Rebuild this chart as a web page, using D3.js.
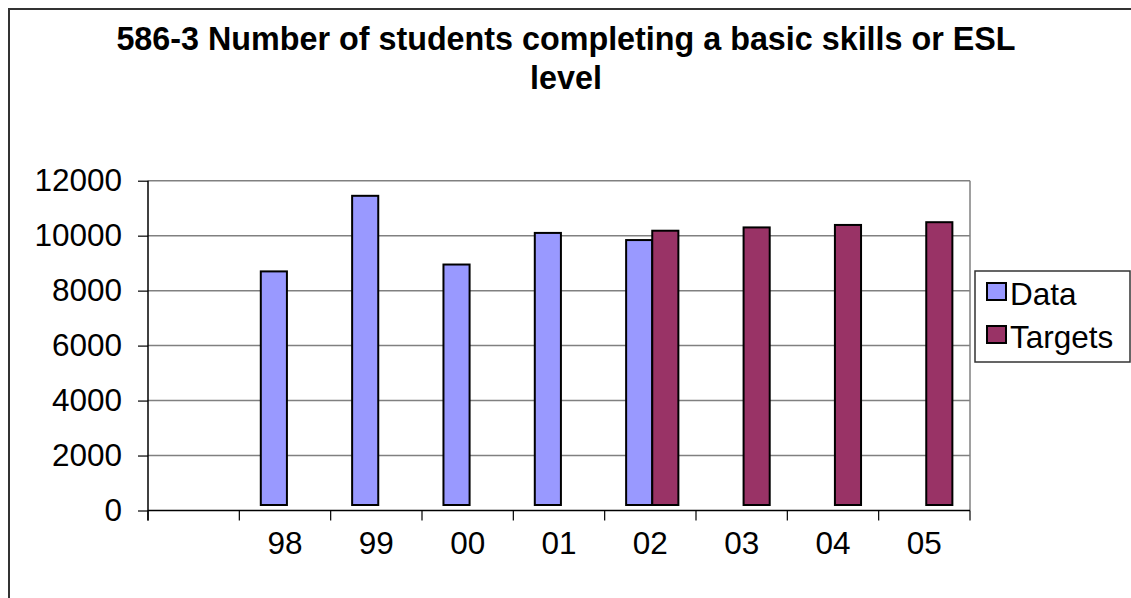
<!DOCTYPE html>
<html>
<head>
<meta charset="utf-8">
<script src="https://cdn.jsdelivr.net/npm/d3@7"></script>
<style>
  html, body { margin: 0; padding: 0; background: #fff; overflow: hidden; }
  svg { display: block; font-family: "Liberation Sans", Arial, sans-serif; }
</style>
</head>
<body>
<svg id="chart" width="1131" height="598"></svg>
<script>
const categories = ["", "98", "99", "00", "01", "02", "03", "04", "05"];
const seriesNames = ["Data", "Targets"];
const dataValues = [null, 8700, 11450, 8950, 10100, 9840, null, null, null];
const targetValues = [null, null, null, null, null, 10180, 10300, 10390, 10490];
const yTicks = [0, 2000, 4000, 6000, 8000, 10000, 12000];
const titleLines = ["586-3 Number of students completing a basic skills or ESL", "level"];
const colors = { Data: "#9999FF", Targets: "#993366" };
const barBase = 200;

const svg = d3.select("#chart");
const W = 1131, H = 598;
const FS = 31.5;

// outer chart border (extends past window right/bottom)
svg.append("rect")
  .attr("x", 9).attr("y", 9).attr("width", W + 20).attr("height", H + 20)
  .attr("fill", "#fff").attr("stroke", "#333").attr("stroke-width", 2);

const plot = { left: 148, right: 970, top: 180.7, bottom: 510.5 };

const x = d3.scaleBand().domain(categories.map((c, i) => i)).range([plot.left, plot.right]).paddingInner(0).paddingOuter(0);
const bw = x.bandwidth();
const xs = d3.scaleBand().domain(seriesNames).range([0.235 * bw, 0.807 * bw]);
const y = d3.scaleLinear().domain([0, 12000]).range([plot.bottom, plot.top]);

// title
svg.append("g").selectAll("text").data(titleLines).join("text")
  .attr("x", 566).attr("y", (d, i) => 50 + i * 39)
  .attr("text-anchor", "middle")
  .attr("font-size", 32.3).attr("font-weight", "bold").attr("fill", "#000")
  .text(d => d);

// gridlines
svg.append("g").selectAll("line").data(yTicks.filter(t => t > 0)).join("line")
  .attr("x1", plot.left).attr("x2", plot.right)
  .attr("y1", d => y(d)).attr("y2", d => y(d))
  .attr("stroke", "#808080").attr("stroke-width", 1.5);

// right border of plot area
svg.append("line")
  .attr("x1", plot.right).attr("x2", plot.right)
  .attr("y1", plot.top).attr("y2", plot.bottom)
  .attr("stroke", "#808080").attr("stroke-width", 1.5);

// bars
const rows = categories.map((c, i) => ({ i, Data: dataValues[i], Targets: targetValues[i] }));
const g = svg.append("g");
seriesNames.forEach(s => {
  g.selectAll(".bar-" + s).data(rows.filter(r => r[s] != null)).join("rect")
    .attr("class", "bar-" + s)
    .attr("x", r => x(r.i) + xs(s))
    .attr("width", xs.bandwidth())
    .attr("y", r => y(r[s]))
    .attr("height", r => y(barBase) - y(r[s]))
    .attr("fill", colors[s]).attr("stroke", "#000").attr("stroke-width", 2);
});

// y axis
const yAxis = d3.axisLeft(y).tickValues(yTicks).tickSize(10).tickPadding(16).tickFormat(d3.format("d"));
const ya = svg.append("g").attr("transform", `translate(${plot.left},0)`).call(yAxis);
ya.select(".domain").remove();
ya.selectAll(".tick line").attr("stroke", "#000").attr("stroke-width", 1.2);
ya.selectAll(".tick text").attr("font-size", FS).attr("fill", "#000")
  .attr("font-family", "'Liberation Sans', Arial, sans-serif");
svg.append("line").attr("x1", plot.left).attr("x2", plot.left)
  .attr("y1", plot.top).attr("y2", plot.bottom + 10)
  .attr("stroke", "#000").attr("stroke-width", 1.5);

// x axis
svg.append("line").attr("x1", plot.left).attr("x2", plot.right)
  .attr("y1", plot.bottom).attr("y2", plot.bottom)
  .attr("stroke", "#000").attr("stroke-width", 1.5);
const boundaries = categories.map((c, i) => x(i)).concat([plot.right]);
svg.append("g").selectAll("line").data(boundaries).join("line")
  .attr("x1", d => d).attr("x2", d => d)
  .attr("y1", plot.bottom).attr("y2", plot.bottom + 10)
  .attr("stroke", "#000").attr("stroke-width", 1.2);
svg.append("g").selectAll("text").data(categories.map((c, i) => ({ c, i }))).join("text")
  .attr("x", d => x(d.i) + bw / 2)
  .attr("y", plot.bottom + 43)
  .attr("text-anchor", "middle")
  .attr("font-size", FS).attr("fill", "#000")
  .text(d => d.c);

// legend
const lg = svg.append("g");
lg.append("rect").attr("x", 975).attr("y", 271).attr("width", 155).attr("height", 91)
  .attr("fill", "#fff").attr("stroke", "#333").attr("stroke-width", 1.5);
seriesNames.forEach((s, i) => {
  lg.append("rect").attr("x", 987).attr("y", 283 + i * 43).attr("width", 19).attr("height", 17)
    .attr("fill", colors[s]).attr("stroke", "#000").attr("stroke-width", 2);
  lg.append("text").attr("x", 1010).attr("y", 305 + i * 43)
    .attr("font-size", FS).attr("fill", "#000").text(s);
});
</script>
</body>
</html>
